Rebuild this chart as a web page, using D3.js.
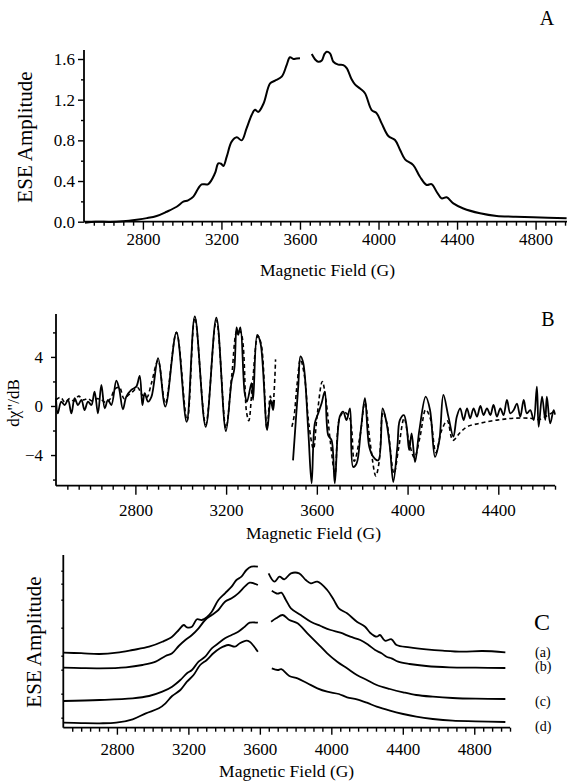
<!DOCTYPE html>
<html><head><meta charset="utf-8">
<script src="https://cdn.jsdelivr.net/npm/d3@7"></script>
<style>
html,body{margin:0;padding:0;background:#fff;}
svg text{font-family:"Liberation Serif","Times New Roman",serif;fill:#000;}
</style></head>
<body><svg id="c" width="567" height="781"></svg>
<script>
// ---------------- DATA ----------------
// Panel A: ESE amplitude vs field (two segments, gap near 3600-3660 G)
const aLeft = [[2505,-0.01],[2560,0.0],[2632,-0.002],[2700,0.005],[2768,0.02],[2820,0.035],[2870,0.056],[2921,0.098],[2972,0.147],[3006,0.197],[3030,0.21],[3057,0.246],[3082,0.328],[3099,0.367],[3133,0.37],[3167,0.476],[3184,0.574],[3198,0.57],[3210,0.548],[3227,0.64],[3252,0.787],[3278,0.83],[3303,0.80],[3328,0.918],[3354,1.05],[3371,1.10],[3388,1.08],[3414,1.16],[3448,1.36],[3473,1.387],[3507,1.426],[3532,1.54],[3549,1.617],[3566,1.60],[3583,1.605],[3600,1.607]];
const aRight = [[3660,1.65],[3680,1.59],[3693,1.573],[3711,1.585],[3725,1.65],[3736,1.672],[3753,1.656],[3770,1.573],[3795,1.545],[3821,1.54],[3838,1.51],[3863,1.40],[3880,1.35],[3906,1.31],[3931,1.263],[3965,1.098],[3991,1.066],[4016,0.967],[4050,0.843],[4084,0.803],[4110,0.705],[4135,0.613],[4177,0.557],[4211,0.442],[4245,0.361],[4270,0.37],[4296,0.295],[4321,0.23],[4347,0.24],[4381,0.18],[4432,0.13],[4517,0.083],[4602,0.056],[4686,0.049],[4788,0.043],[4958,0.033]];
const aXTicks = [2800,3200,3600,4000,4400,4800];
const aYTicks = [0.0,0.4,0.8,1.2,1.6];

// Panel B: derivative spectrum, experiment (solid) and simulation (dashed)
const bSolidLeft = [[2450,0.63],[2458,-0.6],[2473,0.35],[2488,0.08],[2503,0.49],[2518,-0.6],[2532,0.63],[2547,0.08],[2562,0.49],[2576,-0.33],[2591,0.35],[2606,0.08],[2620,1.17],[2635,-0.6],[2650,1.72],[2665,-0.19],[2679,0.49],[2694,0.08],[2716,2.07],[2728,1.45],[2745,-0.27],[2760,0.76],[2782,1.31],[2804,1.58],[2819,2.46],[2831,0.08],[2841,1.04],[2856,0.35],[2871,0.76],[2900,3.9],[2932,-0.05],[2981,6.0],[3026,-1.3],[3062,7.3],[3110,-1.7],[3157,7.2],[3199,-2.05],[3224,2.0],[3236,3.0],[3246,6.4],[3253,5.8],[3263,6.4],[3282,1.04],[3292,0.35],[3312,1.86],[3319,0.5],[3337,5.8],[3352,5.1],[3381,-1.97],[3396,0.5],[3407,-0.33],[3412,0.5]];
const bSolidRight = [[3495,-4.43],[3518,1.58],[3528,4.04],[3540,3.5],[3562,-1.97],[3577,-6.3],[3591,-1.42],[3606,-0.6],[3621,0.22],[3635,1.17],[3650,-2.38],[3665,-2.8],[3679,-6.3],[3701,-0.87],[3716,-0.46],[3731,-1.15],[3746,-0.19],[3760,-4.97],[3775,-4.7],[3794,-1.97],[3812,0.63],[3831,-3.33],[3849,-4.15],[3871,-4.43],[3890,-0.19],[3905,-1.15],[3922,-3.33],[3937,-6.2],[3955,-3.33],[3966,-1.15],[3984,-0.74],[3996,-1.7],[4007,-3.6],[4018,-2.24],[4033,-4.56],[4052,-1.97],[4080,0.76],[4099,-0.33],[4121,-4.15],[4140,-2.8],[4158,0.9],[4180,-0.87],[4202,-2.5],[4217,-0.87],[4232,-0.19],[4247,-1.15],[4262,-0.19],[4276,-1.0],[4291,-0.19],[4306,-0.87],[4321,0.0],[4335,-0.74],[4350,-0.19],[4365,-0.74],[4379,0.08],[4394,-0.87],[4409,-0.19],[4423,-0.74],[4438,0.49],[4453,-0.6],[4468,-0.33],[4482,0.2],[4497,-0.87],[4512,0.49],[4526,-0.6],[4541,-0.33],[4556,-1.15],[4570,1.58],[4578,-1.7],[4593,0.76],[4607,-1.15],[4614,0.76],[4629,-1.42],[4644,-0.33],[4650,-0.7]];
const bDashLeft = [[2450,0.5],[2470,0.7],[2490,0.3],[2510,0.6],[2530,0.4],[2550,0.8],[2570,0.5],[2590,0.6],[2610,0.4],[2630,0.6],[2650,0.5],[2670,0.3],[2690,0.6],[2710,1.4],[2730,1.5],[2750,0.6],[2770,0.9],[2790,1.2],[2810,1.5],[2830,0.9],[2850,0.7],[2870,1.8],[2900,3.7],[2932,0.2],[2981,6.0],[3028,-1.2],[3062,7.2],[3110,-1.5],[3157,7.0],[3199,-1.8],[3225,2.5],[3250,6.2],[3265,6.0],[3290,-0.5],[3300,-1.2],[3315,1.5],[3340,5.7],[3355,5.0],[3380,-1.8],[3395,0.8],[3405,0.0],[3418,3.8]];
const bDashRight = [[3490,-1.7],[3500,-0.8],[3512,1.6],[3528,3.8],[3545,2.5],[3565,-1.5],[3585,-3.5],[3600,-1.0],[3624,2.0],[3640,0.5],[3660,-3.0],[3680,-5.5],[3700,-1.0],[3720,-0.5],[3745,-1.0],[3765,-4.5],[3790,-2.5],[3812,0.3],[3835,-3.0],[3860,-5.7],[3875,-4.5],[3892,-0.5],[3910,-1.5],[3940,-5.5],[3960,-3.5],[3985,-1.0],[4005,-2.8],[4030,-4.2],[4055,-2.5],[4080,-0.3],[4100,-1.0],[4125,-3.8],[4150,-2.0],[4175,-1.2],[4200,-2.8],[4230,-2.2],[4262,-1.7],[4321,-1.4],[4394,-1.15],[4468,-1.0],[4541,-1.0],[4580,-1.1],[4614,-0.8],[4650,-0.4]];
const bXTicks = [2800,3200,3600,4000,4400];
const bYTicks = [-4,0,4];

// Panel C: stacked ESE spectra (a)-(d), arbitrary units
const cLabels = ["(a)","(b)","(c)","(d)"];
const cLeft = [
 [[2500,75],[2600,74.5],[2703,73.7],[2800,75],[2888,77.7],[2980,81],[3054,86],[3109,91],[3146,97.7],[3174,102.7],[3192,100.4],[3220,101],[3248,108.4],[3275,107.7],[3303,110.4],[3331,116],[3368,127.7],[3405,134.4],[3442,141],[3469,147.7],[3497,151],[3525,157.7],[3552,161],[3589,161]],
 [[2500,60],[2600,59.6],[2703,59.4],[2851,60.4],[2943,62.7],[3017,66],[3072,71.7],[3109,74.4],[3146,81.7],[3183,87.7],[3220,92.7],[3257,99.4],[3294,107.7],[3331,112.7],[3368,117.7],[3405,126],[3442,129.4],[3479,134.4],[3515,141],[3543,145],[3589,142.7]],
 [[2500,26.7],[2703,27.7],[2888,29.4],[2980,31.7],[3054,36],[3109,41],[3155,47.7],[3192,54.4],[3220,57.7],[3257,66],[3294,71],[3331,79.4],[3368,84.4],[3405,89.4],[3442,92.7],[3479,96],[3515,101],[3543,105],[3589,105]],
 [[2500,5],[2600,4.6],[2703,4.4],[2796,5],[2888,8.4],[2962,14.4],[3035,19.4],[3072,24.4],[3109,31.7],[3155,37.7],[3192,46],[3229,52.7],[3266,62.7],[3303,67.7],[3340,74.4],[3377,79.4],[3423,82.7],[3460,81],[3488,84.4],[3525,87],[3543,86],[3561,82.7],[3589,76]]
];
const cRight = [
 [[3649,154.4],[3682,146],[3710,151],[3737,148.4],[3774,154.4],[3820,154.4],[3857,147.7],[3885,144.4],[3922,146],[3977,137.7],[4014,127.7],[4042,119.4],[4088,114.4],[4143,106],[4189,101],[4217,95],[4254,91],[4272,92.7],[4300,87],[4337,88.4],[4365,82.7],[4438,80.4],[4531,78.4],[4623,77],[4734,76],[4845,76.7],[4974,75.4]],
 [[3667,137],[3700,134],[3720,135],[3745,128],[3774,119.4],[3829,112.7],[3885,106],[3940,101.7],[3996,97.7],[4051,95],[4106,91],[4162,87.7],[4208,82.7],[4245,77.7],[4281,74.4],[4309,71],[4337,69.4],[4374,66],[4438,63.7],[4531,61.7],[4660,60.4],[4808,60],[4974,59.7]],
 [[3663,106],[3691,109.4],[3728,112.7],[3765,107.7],[3811,104.4],[3866,94.4],[3922,84.4],[3977,74.4],[4033,66],[4088,59.4],[4143,52.7],[4199,47.7],[4254,42.7],[4328,38.7],[4402,35.4],[4475,32.7],[4568,31],[4679,29.7],[4808,29],[4974,28.7]],
 [[3667,59.4],[3700,57.7],[3720,58.5],[3765,51.7],[3811,49.4],[3866,44.4],[3922,39.4],[3977,36],[4042,33.7],[4088,30.4],[4143,28.4],[4199,25],[4254,21],[4328,17],[4402,13.7],[4475,11],[4568,8.7],[4679,7],[4808,6.4],[4974,5.7]]
];
const cXTicks = [2800,3200,3600,4000,4400,4800];

// ---------------- DRAW ----------------
const FONT = "'Liberation Serif','Times New Roman',serif";
const svg = d3.select("#c");
svg.append("rect").attr("width",567).attr("height",781).attr("fill","#fff");

function styleAxis(sel){
  sel.attr("font-family",FONT);
  sel.selectAll(".domain").remove();
  sel.selectAll("line").attr("stroke","#000").attr("stroke-width",1.4);
  sel.selectAll("text").attr("font-family",FONT).attr("fill","#000");
}

function panel(o){
  const g = svg.append("g");
  const x = d3.scaleLinear(o.xd, o.xr);
  const y = d3.scaleLinear(o.yd, o.yr);
  const axm = g.append("g").attr("transform",`translate(0,${o.yAxisPos})`)
    .call(d3.axisBottom(x).tickValues(d3.range(o.xd[0], o.xd[1]+1, 50).filter(v=>v%400!==0 && x(v)>o.xr[0]+1)).tickSize(o.minorLen).tickFormat(""));
  styleAxis(axm);
  const axM = g.append("g").attr("transform",`translate(0,${o.yAxisPos})`)
    .call(d3.axisBottom(x).tickValues(o.xTicks).tickSize(o.majorLen).tickFormat(d3.format("d")).tickPadding(0));
  styleAxis(axM);
  axM.selectAll("text").attr("font-size",17).attr("dy",null).attr("y",o.xLabOff);
  g.append("line").attr("x1",o.xr[0]).attr("x2",o.xr[1]).attr("y1",o.yAxisPos).attr("y2",o.yAxisPos).attr("stroke","#000").attr("stroke-width",1.8);
  if(o.yMinor){
    const aym = g.append("g").attr("transform",`translate(${o.xr[0]},0)`).call(d3.axisLeft(y).tickValues(o.yMinor).tickSize(o.yMinorLen).tickFormat(""));
    styleAxis(aym);
  }
  if(o.yTicks){
    const ayM = g.append("g").attr("transform",`translate(${o.xr[0]},0)`).call(d3.axisLeft(y).tickValues(o.yTicks).tickSize(o.yMajorLen).tickFormat(o.yFmt).tickPadding(o.yPad));
    styleAxis(ayM);
    ayM.selectAll("text").attr("font-size",17);
  }
  g.append("line").attr("x1",o.xr[0]).attr("x2",o.xr[0]).attr("y1",o.yAxisPos).attr("y2",o.yTop).attr("stroke","#000").attr("stroke-width",1.8);
  g.append("text").attr("x",(o.xr[0]+o.xr[1])/2+(o.xTitleShift||0)).attr("y",o.xTitleY).attr("text-anchor","middle").attr("font-size",17.5).attr("font-family",FONT).text("Magnetic Field (G)");
  g.append("text").attr("transform",`translate(${o.yTitleX},${o.yTitleY}) rotate(-90)`).attr("text-anchor","middle").attr("font-size",o.yTitleSize).attr("font-family",FONT).text(o.yTitle);
  return {g,x,y};
}

const smooth = d3.curveCatmullRom.alpha(0.5);

// Panel A
const A = panel({xd:[2500,4960],xr:[84,567],yd:[0,1.6],yr:[221.7,59],yAxisPos:221.7,yTop:50,
  xTicks:aXTicks,minorLen:4,majorLen:8,xLabOff:23.5,yTicks:aYTicks,yMinor:[0.2,0.6,1.0,1.4],yMinorLen:3,yMajorLen:6,yPad:3,yFmt:d3.format(".1f"),
  xTitleY:276,xTitleShift:2,yTitleX:31.5,yTitleY:137,yTitleSize:21,yTitle:"ESE Amplitude"});
const lineA = d3.line().curve(smooth).x(d=>A.x(d[0])).y(d=>A.y(d[1]));
[aLeft,aRight].forEach(s=>A.g.append("path").attr("d",lineA(s)).attr("fill","none").attr("stroke","#000").attr("stroke-width",2).attr("stroke-linejoin","round"));
svg.append("text").attr("x",547).attr("y",25).attr("text-anchor","middle").attr("font-size",20).attr("font-family",FONT).text("A");

// Panel B
const B = panel({xd:[2450,4650],xr:[56,555],yd:[-6.5,7.5],yr:[485.7,314],yAxisPos:485.7,yTop:314,
  xTicks:bXTicks,minorLen:4,majorLen:9,xLabOff:30.8,yTicks:bYTicks,yMinor:[-6,-2,2,6],yMinorLen:3,yMajorLen:5,yPad:8,yFmt:d3.format("d"),
  xTitleY:539,xTitleShift:8,yTitleX:19,yTitleY:403,yTitleSize:17,yTitle:"dχ\"/dB"});
const lineB = d3.line().curve(smooth).x(d=>B.x(d[0])).y(d=>B.y(d[1]));
[bDashLeft,bDashRight].forEach(s=>B.g.append("path").attr("d",lineB(s)).attr("fill","none").attr("stroke","#000").attr("stroke-width",1.6).attr("stroke-dasharray","4,3"));
[bSolidLeft,bSolidRight].forEach(s=>B.g.append("path").attr("d",lineB(s)).attr("fill","none").attr("stroke","#000").attr("stroke-width",1.8).attr("stroke-linejoin","round"));
svg.append("text").attr("x",548).attr("y",326).attr("text-anchor","middle").attr("font-size",20).attr("font-family",FONT).text("B");

// Panel C
const C = panel({xd:[2500,5000],xr:[63.3,510],yd:[0,172],yr:[727.7,555.7],yAxisPos:727.7,yTop:555,
  xTicks:cXTicks,minorLen:4,majorLen:7,xLabOff:27.8,yTicks:null,yMinor:[10,34,58,72,100,128,144,157],yMinorLen:2,yMajorLen:0,yPad:0,yFmt:null,
  xTitleY:777,xTitleShift:0,yTitleX:41,yTitleY:642,yTitleSize:21,yTitle:"ESE Amplitude"});
const lineC = d3.line().curve(smooth).x(d=>C.x(d[0])).y(d=>C.y(d[1]));
cLeft.concat(cRight).forEach(s=>C.g.append("path").attr("d",lineC(s)).attr("fill","none").attr("stroke","#000").attr("stroke-width",1.8).attr("stroke-linejoin","round"));
svg.append("text").attr("x",542).attr("y",630).attr("text-anchor","middle").attr("font-size",24).attr("font-family",FONT).text("C");
const labY = [657,671,706,731];
cLabels.forEach((t,i)=>svg.append("text").attr("x",535).attr("y",labY[i]).attr("font-size",14).attr("font-family",FONT).text(t));
</script></body></html>
